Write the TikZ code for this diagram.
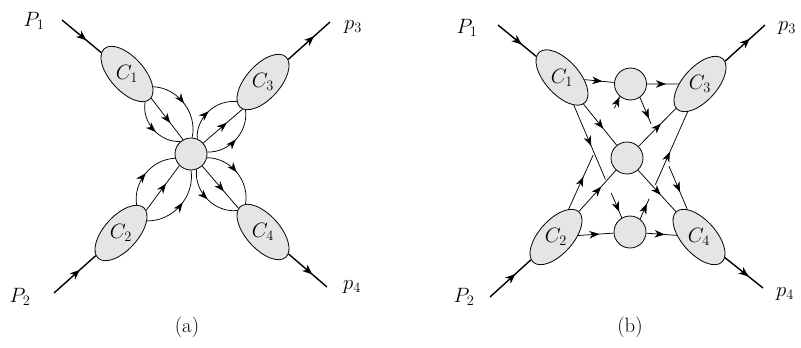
\documentclass[tikz,border=0pt]{standalone}
\usetikzlibrary{arrows.meta,decorations.markings,shapes.geometric,calc}
\begin{document}
\begin{tikzpicture}[x=1pt,y=-1pt,
  lab/.style={font=\fontsize{20.74}{24}\selectfont, inner sep=0pt},
  blob/.style={ellipse, draw, fill=gray!20, line width=0.8pt, minimum width=68pt, minimum height=34pt, inner sep=0pt},
  circ/.style={circle, draw, fill=gray!20, line width=0.8pt, minimum size=32pt, inner sep=0pt},
  midarrow/.style={postaction={decorate}, decoration={markings, mark=at position #1 with {\arrow{Stealth[length=10pt,width=7.5pt,inset=3pt]}}}},
  midarrow/.default=0.6,
  extarrow/.style={postaction={decorate}, decoration={markings, mark=at position #1 with {\arrow{Stealth[length=10pt,width=8pt,inset=3pt]}}}},
  extarrow/.default=0.62,
  inl/.style={line width=0.75pt},
  ext/.style={line width=1.4pt},
]
\useasboundingbox (0,0) rectangle (801,348);

% ---------------- panel (a) ----------------
\node[circ] (oa) at (191,154) {};
\node[blob, rotate=-48] (c1a) at (127,74) {};
\node[blob, rotate=48]  (c3a) at (263,82) {};
\node[blob, rotate=48]  (c2a) at (121,233) {};
\node[blob, rotate=-48] (c4a) at (263,232) {};
\node[lab] (t1a) at (c1a) {$C_1$};
\node[lab] (t3a) at (c3a) {$C_3$};
\node[lab] (t2a) at (c2a) {$C_2$};
\node[lab] (t4a) at (c4a) {$C_4$};

\coordinate (e1a) at (62,20);
\coordinate (e3a) at (330,22);
\coordinate (e2a) at (54,293);
\coordinate (e4a) at (327,287);
\draw[ext, extarrow] (e1a) -- (c1a);
\draw[ext, extarrow] (c3a) -- (e3a);
\draw[ext, extarrow] (e2a) -- (c2a);
\draw[ext, extarrow] (c4a) -- (e4a);

% C1 side
\draw[inl, midarrow=0.5] (c1a.22) to[bend left=50] (oa.86);
\draw[inl, midarrow] (c1a.3) -- (oa.119);
\draw[inl, midarrow=0.55] (c1a.-9) to[bend right=52] (oa.130);
% C3 side
\draw[inl, midarrow=0.5] (oa.68) to[bend left=50] (c3a.169);
\draw[inl, midarrow] (oa.42) -- (c3a.185);
\draw[inl, midarrow=0.5] (oa.7) to[bend right=50] (c3a.190);
% C2 side
\draw[inl, midarrow=0.5] (c2a.13) to[bend left=48] (oa.195);
\draw[inl, midarrow] (c2a.-6) -- (oa.225);
\draw[inl, midarrow=0.55] (c2a.-23) to[bend right=50] (oa.-90);
% C4 side
\draw[inl, midarrow=0.5] (oa.-13) to[bend left=50] (c4a.170);
\draw[inl, midarrow] (oa.-47) -- (c4a.184);
\draw[inl, midarrow=0.5] (oa.-70) to[bend right=52] (c4a.188);

\node[lab] (P1a) at (34,21) {$P_1$};
\node[lab] (p3a) at (353,27) {$p_3$};
\node[lab] (P2a) at (20,297) {$P_2$};
\node[lab] (p4a) at (352,287) {$p_4$};
\node[lab] (capa) at (187,327) {(a)};

% ---------------- panel (b) ----------------
\node[circ] (tb) at (630.5,84) {};
\node[circ] (mb) at (627,158) {};
\node[circ] (bb) at (630,232) {};
\node[blob, rotate=-48] (c1b) at (562,77.5) {};
\node[blob, rotate=48]  (c3b) at (700,84) {};
\node[blob, rotate=48]  (c2b) at (556,237) {};
\node[blob, rotate=-48] (c4b) at (699,237) {};
\node[lab] (t1b) at (c1b) {$C_1$};
\node[lab] (t3b) at (c3b) {$C_3$};
\node[lab] (t2b) at (c2b) {$C_2$};
\node[lab] (t4b) at (c4b) {$C_4$};

\coordinate (e1b) at (498,25);
\coordinate (e3b) at (765,25);
\coordinate (e2b) at (490,297);
\coordinate (e4b) at (763,288);
\draw[ext, extarrow] (e1b) -- (c1b);
\draw[ext, extarrow] (c3b) -- (e3b);
\draw[ext, extarrow] (e2b) -- (c2b);
\draw[ext, extarrow] (c4b) -- (e4b);

\draw[inl, midarrow] (c1b) -- (tb);
\draw[inl, midarrow] (tb) -- (c3b);
\draw[inl, midarrow] (c1b) -- (mb);
\draw[inl, midarrow] (mb) -- (c3b);
\draw[inl, midarrow] (c2b) -- (mb);
\draw[inl, midarrow] (mb) -- (c4b);
\draw[inl, midarrow] (c2b) -- (bb);
\draw[inl, midarrow] (bb) -- (c4b);

% broken (crossing-under) lines
\path (c2b) -- (tb.229) coordinate[pos=0.48] (g1) coordinate[pos=0.895] (g2);
\draw[inl, midarrow=0.6] (c2b) -- (g1);
\draw[inl, midarrow=0.95] (g2) -- (tb.229);
\path (tb.-55) -- (c4b) coordinate[pos=0.237] (g3) coordinate[pos=0.614] (g4);
\draw[inl, midarrow=0.8] (tb.-55) -- (g3);
\draw[inl, midarrow=0.6] (g4) -- (c4b);
\path (c1b) -- (bb.120) coordinate[pos=0.66] (g5) coordinate[pos=0.78] (g6);
\draw[inl, midarrow=0.55] (c1b) -- (g5);
\draw[inl, midarrow=0.75] (g6) -- (bb.120);
\path (bb.52) -- (c3b) coordinate[pos=0.19] (g7) coordinate[pos=0.32] (g8);
\draw[inl, midarrow=0.75] (bb.52) -- (g7);
\draw[inl, midarrow=0.45] (g8) -- (c3b);

\node[lab] (P1b) at (467,28) {$P_1$};
\node[lab] (p3b) at (787,28) {$p_3$};
\node[lab] (P2b) at (464,297) {$P_2$};
\node[lab] (p4b) at (785,294) {$p_4$};
\node[lab] (capb) at (630,327) {(b)};
\end{tikzpicture}
\end{document}
